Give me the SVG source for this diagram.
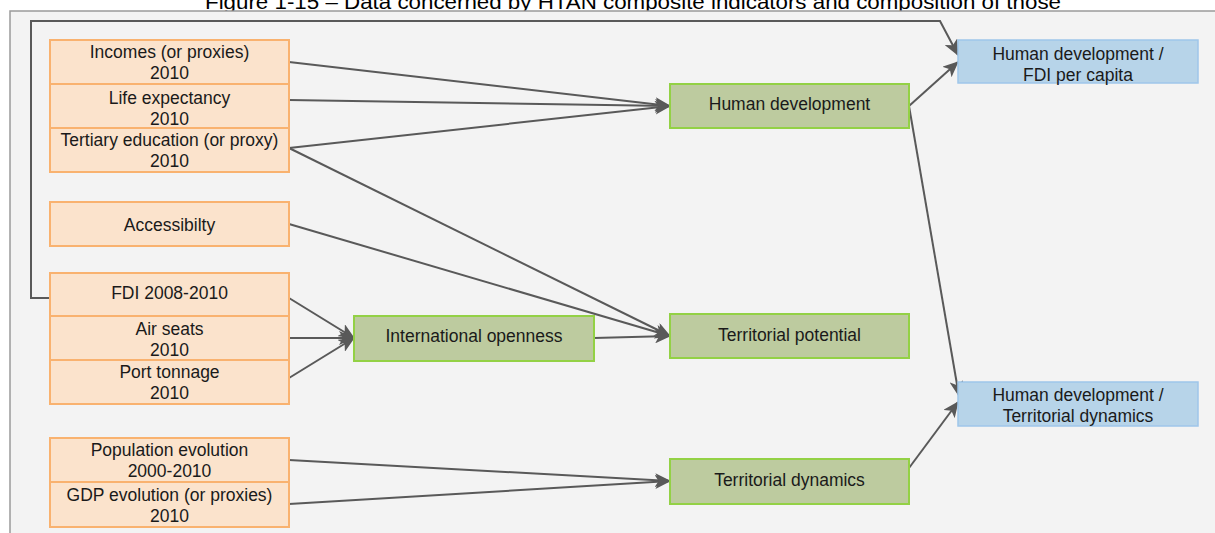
<svg xmlns="http://www.w3.org/2000/svg" width="1215" height="533" viewBox="0 0 1215 533">
  <style>
    .src { fill: #fbe3cc; stroke: #f9b26f; stroke-width: 2; }
    .mid { fill: #bdcb9f; stroke: #93d145; stroke-width: 2; }
    .out { fill: #b7d4e9; stroke: #9fc6ea; stroke-width: 1.5; }
    text { font-family: "Liberation Sans", Arial, sans-serif; font-size: 17.5px; fill: #1a1a1a; text-anchor: middle; }
    .title { font-size: 20px; fill: #000; }
    .conn { fill: none; stroke: #595959; stroke-width: 2; }
  </style>
  <defs>
    <marker id="arrow" markerUnits="userSpaceOnUse" markerWidth="16" markerHeight="14" viewBox="0 0 16 14" refX="15" refY="7" orient="auto">
      <path d="M0,0 L16,7 L0,14 L4,7 Z" fill="#595959"/>
    </marker>
  </defs>

  <!-- page and panel -->
  <rect x="0" y="0" width="1215" height="533" fill="#ffffff"/>
  <text class="title" x="633" y="9" textLength="856" lengthAdjust="spacingAndGlyphs">Figure 1-15 – Data concerned by HTAN composite indicators and composition of those</text>
  <rect x="10" y="11" width="1215" height="540" fill="#f3f3f3" stroke="#9a9a9a" stroke-width="1.5"/>

  <!-- connectors -->
  <g id="connectors" class="conn" marker-end="url(#arrow)">
    <path d="M50,298 H31 V21 H940 L958,55"/>
    <path d="M289,62 L670,106"/>
    <path d="M289,100 L670,106"/>
    <path d="M289,148 L670,106"/>
    <path d="M289,148 L670,336"/>
    <path d="M289,224 L670,336"/>
    <path d="M594,338 L670,336"/>
    <path d="M289,298 L354,338"/>
    <path d="M289,338 L354,338"/>
    <path d="M289,378 L354,338"/>
    <path d="M289,460 L670,481"/>
    <path d="M289,504 L670,481"/>
    <path d="M909,106 L958,62"/>
    <path d="M909,106 L959,396"/>
    <path d="M909,468 L958,402"/>
  </g>

  <!-- source data -->
  <g id="incomes">
    <rect class="src" x="50" y="40" width="239" height="44"/>
    <text x="169.5" y="57.5">Incomes (or proxies)</text>
    <text x="169.5" y="78.5">2010</text>
  </g>
  <g id="life-expectancy">
    <rect class="src" x="50" y="84" width="239" height="44"/>
    <text x="169.5" y="103.5">Life expectancy</text>
    <text x="169.5" y="124.5">2010</text>
  </g>
  <g id="tertiary-education">
    <rect class="src" x="50" y="128" width="239" height="44"/>
    <text x="169.5" y="145.5">Tertiary education (or proxy)</text>
    <text x="169.5" y="166.5">2010</text>
  </g>
  <g id="accessibility">
    <rect class="src" x="50" y="202" width="239" height="44"/>
    <text x="169.5" y="230.5">Accessibilty</text>
  </g>
  <g id="fdi">
    <rect class="src" x="50" y="273" width="239" height="43"/>
    <text x="169.5" y="298.5">FDI 2008-2010</text>
  </g>
  <g id="air-seats">
    <rect class="src" x="50" y="316" width="239" height="44"/>
    <text x="169.5" y="334.5">Air seats</text>
    <text x="169.5" y="355.5">2010</text>
  </g>
  <g id="port-tonnage">
    <rect class="src" x="50" y="360" width="239" height="44"/>
    <text x="169.5" y="377.5">Port tonnage</text>
    <text x="169.5" y="398.5">2010</text>
  </g>
  <g id="population-evolution">
    <rect class="src" x="50" y="438" width="239" height="44"/>
    <text x="169.5" y="455.5">Population evolution</text>
    <text x="169.5" y="476.5">2000-2010</text>
  </g>
  <g id="gdp-evolution">
    <rect class="src" x="50" y="482" width="239" height="45"/>
    <text x="169.5" y="500.5">GDP evolution (or proxies)</text>
    <text x="169.5" y="521.5">2010</text>
  </g>

  <!-- composite indicators -->
  <g id="human-development">
    <rect class="mid" x="670" y="84" width="239" height="44"/>
    <text x="789.5" y="109.5">Human development</text>
  </g>
  <g id="international-openness">
    <rect class="mid" x="354" y="316" width="240" height="45"/>
    <text x="474" y="341.5">International openness</text>
  </g>
  <g id="territorial-potential">
    <rect class="mid" x="670" y="314" width="239" height="44"/>
    <text x="789.5" y="340.5">Territorial potential</text>
  </g>
  <g id="territorial-dynamics">
    <rect class="mid" x="670" y="459" width="239" height="45"/>
    <text x="789.5" y="485.5">Territorial dynamics</text>
  </g>

  <!-- ratios -->
  <g id="hd-fdi">
    <rect class="out" x="958" y="40" width="240" height="43"/>
    <text x="1078" y="59.5">Human development /</text>
    <text x="1078" y="80.5">FDI per capita</text>
  </g>
  <g id="hd-territorial-dynamics">
    <rect class="out" x="958" y="382" width="240" height="44"/>
    <text x="1078" y="400.5">Human development /</text>
    <text x="1078" y="421.5">Territorial dynamics</text>
  </g>
</svg>
